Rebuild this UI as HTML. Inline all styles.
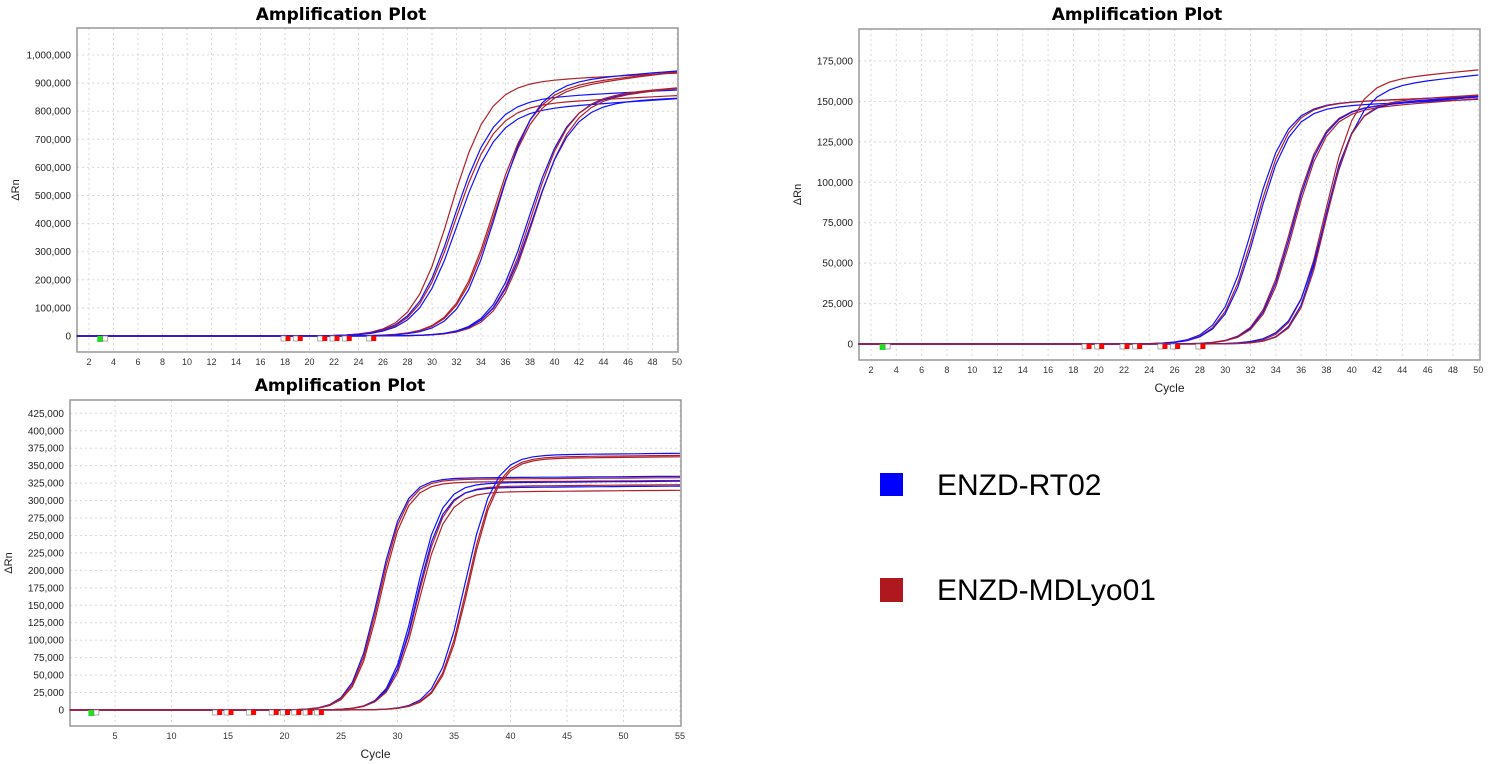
<!DOCTYPE html>
<html><head><meta charset="utf-8"><style>
body{margin:0;background:#fff;width:1504px;height:764px;overflow:hidden;font-family:"Liberation Sans",sans-serif}
svg{position:absolute;left:0;top:0}
</style></head><body>
<svg id="s" width="1504" height="764" xmlns="http://www.w3.org/2000/svg">
<rect x="880" y="473" width="23" height="23" fill="#0000ff"/>
<text x="937" y="495" font-size="30" font-family="Liberation Sans, sans-serif" fill="#000">ENZD-RT02</text>
<rect x="880" y="578" width="23" height="24" fill="#b01820"/>
<text x="937" y="600" font-size="30" font-family="Liberation Sans, sans-serif" fill="#000">ENZD-MDLyo01</text>
</svg>
<script>
var S=document.getElementById('s'),NS='http://www.w3.org/2000/svg';
function el(t,a,txt){var e=document.createElementNS(NS,t);for(var k in a)e.setAttribute(k,a[k]);if(txt!=null)e.textContent=txt;S.appendChild(e);return e;}
function fmt(v){return v.toString().replace(/\B(?=(\d{3})+(?!\d))/g,',');}
function plot(o){
 var X=function(c){return o.x0+(c-o.xs)*o.kx;},Y=function(v){return o.y0-v*o.ky;};
 el('text',{x:o.tx,y:o.ty,'font-size':17,'font-weight':'bold','text-anchor':'middle','font-family':'DejaVu Sans, sans-serif'},'Amplification Plot');
 for(var c=o.xs;c<=o.xe;c+=o.xstep){var x=X(c);el('line',{x1:x,x2:x,y1:o.T,y2:o.B,stroke:'#d8d8d8','stroke-dasharray':'2,3'});
  el('text',{x:x,y:o.B+13,'font-size':9,'text-anchor':'middle',fill:'#333'},c);}
 for(var v=0;v<=o.ymax;v+=o.ystep){var y=Y(v);el('line',{x1:o.L,x2:o.R,y1:y,y2:y,stroke:'#d8d8d8','stroke-dasharray':'2,3'});
  el('text',{x:o.L-6,y:y+3.5,'font-size':10,'text-anchor':'end',fill:'#222'},fmt(v));}
 el('rect',{x:o.L,y:o.T,width:o.R-o.L,height:o.B-o.T,fill:'none',stroke:'#999','stroke-width':1.5});
 el('text',{x:0,y:0,'font-size':11,'text-anchor':'middle',transform:'translate('+(o.L-58)+','+((o.T+o.B)/2)+') rotate(-90)',fill:'#222'},'ΔRn');
 if(o.xl)el('text',{x:(o.L+o.R)/2,y:o.B+32,'font-size':12,'text-anchor':'middle',fill:'#222'},'Cycle');
 o.curves.forEach(function(cv){var d='';for(var c=1;c<=o.xe;c+=1){var v=cv[1]/(1+Math.exp(-(c-cv[0])/cv[2]));
   if(c>cv[0]+2)v+= (cv[3]||0)*(c-cv[0]-2)/ (o.xe-cv[0]);d+=(d?'L':'M')+X(c).toFixed(1)+','+Y(v).toFixed(1);}
  el('path',{d:d,fill:'none',stroke:cv[4],'stroke-width':1.2});});
 var y0=Y(0)+3;
 el('rect',{x:X(o.gm)-4,y:y0-3,width:6,height:6,fill:'#22dd22'});el('rect',{x:X(o.gm)+1.5,y:y0-3,width:5,height:5,fill:'#fff',stroke:'#888','stroke-width':0.7});
 o.mk.forEach(function(c){el('rect',{x:X(c)-4,y:y0-3,width:5,height:5,fill:'#fff',stroke:'#888','stroke-width':0.7});el('rect',{x:X(c)+0.5,y:y0-3,width:5,height:5,fill:'#f00'});});
}
var B='#1010ff',R='#b02028';
plot({L:77,R:678,T:28,B:352,x0:89,kx:12.25,y0:336,ky:281/1e6,tx:341,ty:20,xs:2,xe:50,xstep:2,ymax:1000000,ystep:100000,xl:false,gm:3,mk:[18,19,21,22,23,25],
 curves:[[31.5,900000,1.55,40000,R],[31.8,840000,1.6,40000,B],[31.9,820000,1.6,40000,R],[32.1,800000,1.6,50000,B],[35.0,880000,1.6,70000,R],[35.1,870000,1.6,80000,R],[35.3,900000,1.55,50000,B],
 [37.9,840000,1.55,50000,B],[38.1,850000,1.55,40000,R],[38.3,840000,1.55,50000,R],[38.2,830000,1.6,20000,B]]});
plot({L:859,R:1480,T:29,B:360,x0:871,kx:12.65,y0:344,ky:283/175000,tx:1137,ty:20,xs:2,xe:50,xstep:2,ymax:175000,ystep:25000,xl:true,gm:3,mk:[19,20,22,23,25,26,28],
 curves:[[32.2,148000,1.3,6000,B],[32.4,148000,1.3,6000,R],[32.5,146000,1.3,6000,B],[35.2,145000,1.25,9000,R],[35.3,145000,1.25,9000,B],[35.4,144000,1.25,9000,R],
 [37.9,162000,1.2,9000,R],[38.0,158000,1.3,10000,B],[37.8,148000,1.1,6000,B],[37.9,149000,1.1,6000,R]]});
plot({L:70,R:681,T:400,B:726,x0:115,kx:11.3,y0:710,ky:296.7/425000,tx:340,ty:391,xs:5,xe:55,xstep:5,ymax:425000,ystep:25000,xl:true,gm:3,mk:[14,15,17,19,20,21,22,23],
 curves:[[28.3,332000,1.15,3000,B],[28.4,330000,1.15,3000,R],[28.5,326000,1.15,3000,R],[31.6,325000,1.15,3000,B],[31.8,320000,1.2,3000,R],[31.7,318000,1.15,3000,B],[31.9,312000,1.2,3000,R],
 [36.0,365000,1.25,3000,B],[36.2,362000,1.25,3000,R],[36.3,360000,1.25,3000,R]]});
</script>
</body></html>
